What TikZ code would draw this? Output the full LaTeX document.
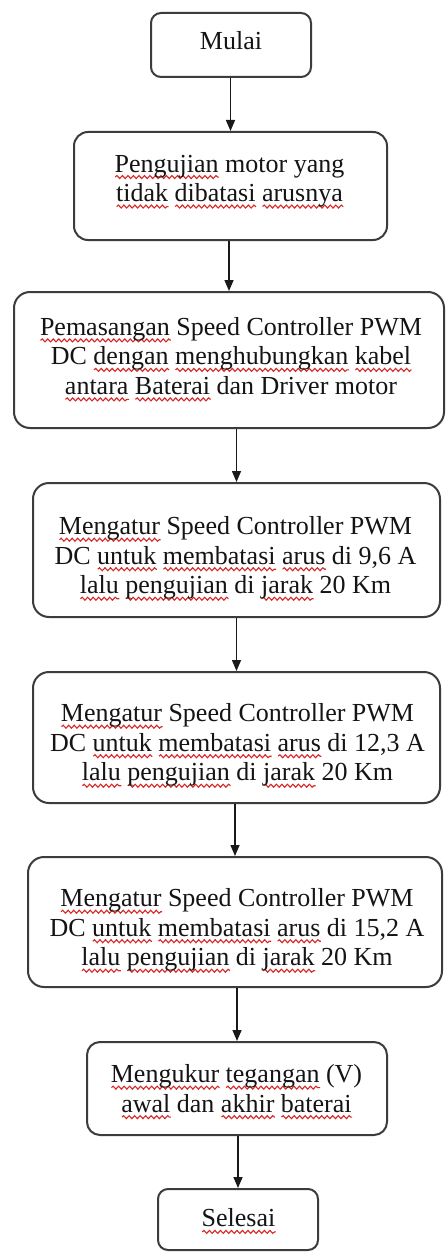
\documentclass[tikz,border=0pt]{standalone}
\usepackage{fontspec}
\setmainfont{Liberation Serif}
\usetikzlibrary{arrows.meta,calc,decorations.pathmorphing}
\definecolor{wavered}{RGB}{215,40,40}
\definecolor{boxgray}{RGB}{60,60,60}
\newsavebox\rwbox
\newlength\rwlen
\newcommand\rw[1]{\sbox\rwbox{#1}\setlength\rwlen{\wd\rwbox}\rlap{\raisebox{-5pt}[0pt][0pt]{\tikz[x=1pt,y=1pt,baseline={(0,0)}]\draw[wavered, line width=1.1pt, decorate, decoration={snake, amplitude=1.5pt, segment length=5.5pt}] (0,0) -- (\rwlen,0);}}\usebox\rwbox}
\begin{document}
\begin{tikzpicture}[x=1pt,y=-1pt,
  box/.style={draw=boxgray, line width=2pt, rounded corners=#1, inner sep=0pt},
  box/.default=13pt,
  txt/.style={align=center, inner sep=0pt, font=\fontsize{26}{29.5}\selectfont, text=black!92},
  arr/.style={line width=1.5pt, draw=black!90, -{Triangle[width=9pt,length=11pt]}}]
\fill[white] (0,0) rectangle (446,1252);
\useasboundingbox (0,0) rectangle (446,1252);

% boxes
\node[box=10pt, minimum width=160pt, minimum height=64pt] (b1) at (231,45) {};
\node[box=14pt, minimum width=313pt, minimum height=108pt] (b2) at (230.5,186) {};
\node[box=16pt, minimum width=430pt, minimum height=136pt] (b3) at (229,360) {};
\node[box=16pt, minimum width=407pt, minimum height=134pt] (b4) at (236.5,550) {};
\node[box=16pt, minimum width=407pt, minimum height=131pt] (b5) at (236.5,737.5) {};
\node[box=16pt, minimum width=414pt, minimum height=130pt] (b6) at (235,922) {};
\node[box=13pt, minimum width=300pt, minimum height=93pt] (b7) at (237,1088.5) {};
\node[box=10pt, minimum width=160pt, minimum height=61pt] (b8) at (238,1219.5) {};

% texts
\node[txt] (t1) at (231,41) {Mulai};
\node[txt] (t2) at (229.5,181) {\rw{Pengujian} motor yang\\ \rw{tidak} \rw{dibatasi} \rw{arusnya}};
\node[txt] (t3) at (231,356) {\rw{Pemasangan} Speed Controller PWM\\ DC \rw{dengan} \rw{menghubungkan} \rw{kabel}\\ \rw{antara} \rw{Baterai} dan Driver motor};
\node[txt] (t4) at (235.5,558) {\rw{Mengatur} Speed Controller PWM\\ DC \rw{untuk} \rw{membatasi} \rw{arus} di 9,6 A\\ \rw{lalu} \rw{pengujian} di \rw{jarak} 20 Km};
\node[txt] (t5) at (237.5,745) {\rw{Mengatur} Speed Controller PWM\\ DC \rw{untuk} \rw{membatasi} \rw{arus} di 12,3 A\\ \rw{lalu} \rw{pengujian} di \rw{jarak} 20 Km};
\node[txt] (t6) at (237,930) {\rw{Mengatur} Speed Controller PWM\\ DC \rw{untuk} \rw{membatasi} \rw{arus} di 15,2 A\\ \rw{lalu} \rw{pengujian} di \rw{jarak} 20 Km};
\node[txt] (t7) at (236.5,1088.5) {\rw{Mengukur} \rw{tegangan} (V)\\ \rw{awal} dan \rw{akhir} \rw{baterai}};
\node[txt] (t8) at (238.5,1218) {\rw{Selesai}};

% arrows
\draw[arr] (b2.north |- b1.south) -- (b2.north);
\draw[arr] (b3.north |- b2.south) -- (b3.north);
\draw[arr] (b4.north |- b3.south) -- (b4.north);
\draw[arr] (b5.north |- b4.south) -- (b5.north);
\draw[arr] (b6.north |- b5.south) -- (b6.north);
\draw[arr] (b7.north |- b6.south) -- (b7.north);
\draw[arr] (b8.north |- b7.south) -- (b8.north);
\end{tikzpicture}
\end{document}
